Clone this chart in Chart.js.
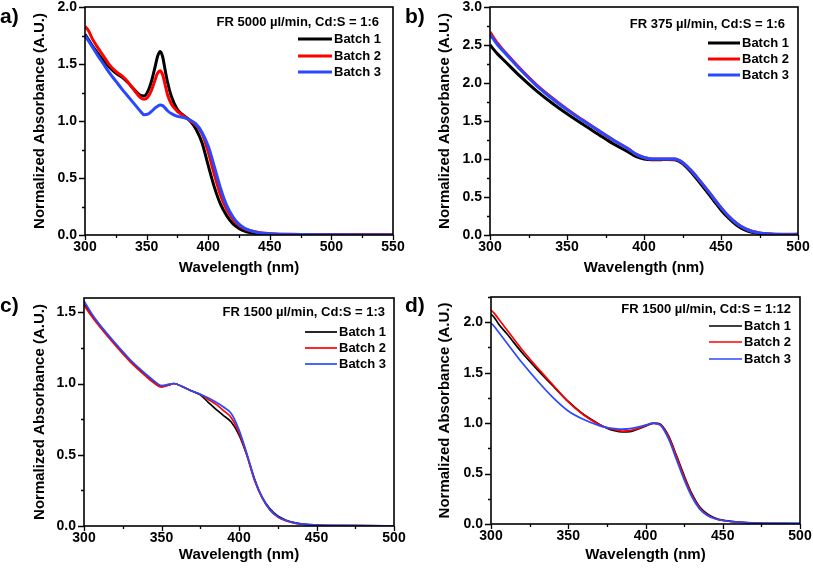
<!DOCTYPE html>
<html><head><meta charset="utf-8">
<script src="https://cdn.jsdelivr.net/npm/chart.js@4.4.0/dist/chart.umd.min.js"></script>
<style>
html,body{margin:0;padding:0;background:#fff;width:813px;height:570px;overflow:hidden;position:relative;font-family:"Liberation Sans",Arial,sans-serif;}
canvas{position:absolute;}
.lab{position:absolute;font-weight:bold;font-size:21px;line-height:1;color:#000;}
</style></head><body>
<canvas id="ca" width="406" height="285" style="left:0;top:0"></canvas>
<canvas id="cb" width="407" height="285" style="left:406px;top:0"></canvas>
<canvas id="cc" width="406" height="285" style="left:0;top:285px"></canvas>
<canvas id="cd" width="407" height="285" style="left:406px;top:285px"></canvas>
<div class="lab" style="left:0;top:5px">a)</div>
<div class="lab" style="left:405px;top:5px">b)</div>
<div class="lab" style="left:0;top:294px">c)</div>
<div class="lab" style="left:405px;top:294px">d)</div>
<script>
// ---------- DATA ----------
const seriesNames = ['Batch 1','Batch 2','Batch 3'];
const titleA = 'FR 5000 µl/min, Cd:S = 1:6';
const titleB = 'FR 375 µl/min, Cd:S = 1:6';
const titleC = 'FR 1500 µl/min, Cd:S = 1:3';
const titleD = 'FR 1500 µl/min, Cd:S = 1:12';
const xTitle = 'Wavelength (nm)';
const yTitle = 'Normalized Absorbance (A.U.)';

// Panel a
const aX  = [300,303,306,310,315,320,325,330,335,340,345,348,351,354,357,359,361,363,365,367,370,375,380,385,390,395,400,405,410,415,420,425,430,440,450,475,500,525,550];
const aB1 = [1.76,1.71,1.66,1.60,1.53,1.47,1.42,1.385,1.335,1.275,1.225,1.22,1.26,1.35,1.48,1.57,1.61,1.565,1.45,1.34,1.22,1.10,1.05,1.005,0.93,0.81,0.61,0.42,0.27,0.17,0.10,0.058,0.032,0.012,0.006,0.003,0.002,0.001,0.0];
const aB2 = [1.83,1.79,1.72,1.65,1.57,1.49,1.435,1.395,1.34,1.27,1.205,1.19,1.21,1.27,1.365,1.42,1.44,1.405,1.32,1.23,1.15,1.085,1.045,1.005,0.965,0.89,0.73,0.53,0.35,0.225,0.14,0.085,0.053,0.024,0.012,0.005,0.003,0.002,0.002];
const aB3 = [1.75,1.70,1.65,1.58,1.50,1.42,1.35,1.28,1.215,1.15,1.085,1.055,1.06,1.085,1.115,1.13,1.14,1.135,1.115,1.09,1.065,1.04,1.03,1.01,0.975,0.90,0.78,0.60,0.41,0.26,0.16,0.095,0.057,0.022,0.010,0.004,0.002,0.001,0.001];

// Panel b
const bX  = [300,305,310,320,330,340,350,360,370,380,390,395,400,405,410,415,420,425,430,435,440,445,450,455,460,465,470,475,480,490,500];
const bB1 = [2.50,2.38,2.28,2.08,1.90,1.74,1.595,1.46,1.33,1.20,1.09,1.03,1.00,0.99,0.99,0.995,0.99,0.94,0.84,0.72,0.59,0.46,0.33,0.22,0.13,0.07,0.035,0.018,0.010,0.004,0.003];
const bB2 = [2.67,2.52,2.40,2.18,1.98,1.81,1.655,1.515,1.38,1.25,1.13,1.06,1.02,1.00,1.00,1.00,1.00,0.955,0.86,0.745,0.62,0.49,0.36,0.245,0.155,0.09,0.05,0.028,0.017,0.009,0.012];
const bB3 = [2.64,2.50,2.39,2.17,1.97,1.80,1.65,1.51,1.38,1.25,1.13,1.06,1.02,1.00,1.00,1.00,1.00,0.955,0.86,0.745,0.62,0.49,0.36,0.245,0.155,0.09,0.05,0.028,0.016,0.007,0.006];

// Panel c
const cX  = [300,305,310,320,330,340,345,350,355,358,360,365,370,375,380,385,390,395,400,405,410,415,420,425,430,435,440,450,460,475,500];
const cB1 = [1.56,1.48,1.41,1.28,1.16,1.06,1.015,0.98,0.99,1.0,0.995,0.97,0.945,0.92,0.87,0.82,0.775,0.73,0.64,0.50,0.33,0.20,0.12,0.07,0.042,0.025,0.015,0.006,0.003,0.002,0.001];
const cB2 = [1.55,1.47,1.40,1.27,1.15,1.05,1.005,0.975,0.99,1.0,0.995,0.97,0.945,0.925,0.89,0.855,0.81,0.76,0.655,0.50,0.32,0.195,0.11,0.062,0.037,0.022,0.013,0.005,0.003,0.002,0.001];
const cB3 = [1.58,1.49,1.415,1.285,1.165,1.065,1.02,0.985,0.995,1.0,0.995,0.97,0.945,0.925,0.90,0.87,0.835,0.79,0.675,0.51,0.33,0.20,0.115,0.066,0.04,0.024,0.015,0.007,0.004,0.002,0.001];

// Panel d
const dX  = [300,302,305,310,320,330,340,350,360,370,375,380,385,390,395,400,405,408,410,415,420,425,430,435,440,445,450,460,470,480,490,500];
const dB1 = [2.08,2.05,1.98,1.89,1.70,1.53,1.37,1.215,1.085,0.99,0.95,0.925,0.913,0.915,0.94,0.97,0.998,0.997,0.985,0.87,0.68,0.48,0.30,0.17,0.10,0.06,0.038,0.02,0.01,0.005,0.003,0.002];
const dB2 = [2.12,2.09,2.03,1.93,1.73,1.55,1.38,1.21,1.08,0.985,0.955,0.935,0.92,0.925,0.945,0.975,1.0,0.995,0.98,0.86,0.67,0.465,0.285,0.16,0.09,0.055,0.035,0.018,0.009,0.004,0.002,0.001];
const dB3 = [1.99,1.96,1.90,1.80,1.60,1.42,1.255,1.12,1.035,0.975,0.955,0.945,0.94,0.945,0.96,0.98,1.0,0.99,0.975,0.84,0.64,0.44,0.27,0.15,0.085,0.052,0.035,0.02,0.012,0.01,0.01,0.01];

// ---------- STYLE / LAYOUT ----------
const COLORS = ['#000000','#ff0000','#2a48ff'];
const FONT = '"Liberation Sans", Arial, sans-serif';

function stepTicks(min, max, step) {
  const out = [];
  const n = Math.floor((max - min) / step + 1e-9);
  for (let i = 0; i <= n; i++) out.push({value: +(min + i * step).toFixed(6)});
  return out;
}

const framePlugin = {
  id: 'frame',
  afterDraw(chart) {
    const o = chart.options.plugins.frame;
    const {ctx, chartArea: ca, scales: {x, y}} = chart;
    ctx.save();
    ctx.strokeStyle = '#000';
    ctx.lineWidth = 1.6;
    ctx.strokeRect(ca.left, ca.top, ca.right - ca.left, ca.bottom - ca.top);
    ctx.lineWidth = 1.3;
    ctx.beginPath();
    x.ticks.forEach(t => {
      const px = Math.round(x.getPixelForValue(t.value)) + 0.5;
      const major = Math.abs(t.value / 50 - Math.round(t.value / 50)) < 1e-6;
      ctx.moveTo(px, ca.bottom);
      ctx.lineTo(px, ca.bottom + (major ? 5 : 3));
    });
    y.ticks.forEach(t => {
      const py = Math.round(y.getPixelForValue(t.value)) + 0.5;
      const major = Math.abs(t.value / 0.5 - Math.round(t.value / 0.5)) < 1e-6;
      ctx.moveTo(ca.left, py);
      ctx.lineTo(ca.left - (major ? 6 : 3), py);
    });
    ctx.stroke();
    // legend
    ctx.fillStyle = '#000';
    ctx.font = 'bold 13px ' + FONT;
    ctx.textBaseline = 'middle';
    ctx.textAlign = 'right';
    ctx.fillText(o.title, ca.right - o.tr, ca.top + o.ty);
    ctx.textAlign = 'left';
    chart.data.datasets.forEach((ds, i) => {
      const yy = ca.top + o.rows[i];
      ctx.strokeStyle = ds.borderColor;
      ctx.lineWidth = ds.borderWidth;
      ctx.beginPath();
      ctx.moveTo(ca.right - o.l1, yy);
      ctx.lineTo(ca.right - o.l2, yy);
      ctx.stroke();
      ctx.fillText(ds.label, ca.right - o.l2 + 2, yy + 0.5);
    });
    ctx.restore();
  }
};

function makeChart(id, cfg) {
  const ys = [cfg.s1, cfg.s2, cfg.s3];
  const datasets = ys.map((arr, i) => ({
    label: seriesNames[i],
    data: cfg.xs.map((xv, k) => ({x: xv, y: arr[k]})),
    borderColor: COLORS[i],
    borderWidth: cfg.lw,
    pointRadius: 0,
    fill: false,
    cubicInterpolationMode: 'monotone',
    order: 3 - i
  }));
  const H = 285;
  new Chart(document.getElementById(id), {
    type: 'line',
    data: {datasets},
    options: {
      responsive: false, animation: false, devicePixelRatio: 1,
      layout: {padding: {top: cfg.top, right: cfg.right, left: 0, bottom: 0}},
      plugins: {
        legend: {display: false}, tooltip: {enabled: false},
        frame: {title: cfg.title, tr: cfg.lg.tr, ty: cfg.lg.ty, rows: cfg.lg.rows, l1: cfg.lg.l1, l2: cfg.lg.l2}
      },
      scales: {
        x: {
          type: 'linear', min: cfg.xmin, max: cfg.xmax,
          afterBuildTicks(s) { s.ticks = stepTicks(cfg.xmin, cfg.xmax, 25); },
          ticks: {autoSkip: false, maxRotation: 0, color: '#000', padding: 4,
            font: {family: FONT, size: 14, weight: 'bold'},
            callback: v => (Math.abs(v / 50 - Math.round(v / 50)) < 1e-6 ? String(v) : '')},
          grid: {display: false, drawTicks: false},
          border: {display: false},
          title: {display: true, text: xTitle, color: '#000', font: {family: FONT, size: 15, weight: 'bold'}, padding: {top: 0, bottom: cfg.xtb}},
          afterFit(s) { s.height = H - cfg.bottom; s.paddingLeft = 0; s.paddingRight = 0; }
        },
        y: {
          type: 'linear', min: 0, max: cfg.ymax,
          afterBuildTicks(s) { s.ticks = stepTicks(0, cfg.ymax, 0.25); },
          ticks: {autoSkip: false, color: '#000', padding: 8,
            font: {family: FONT, size: 14, weight: 'bold'},
            callback: v => (Math.abs(v / 0.5 - Math.round(v / 0.5)) < 1e-6 ? v.toFixed(1) : '')},
          grid: {display: false, drawTicks: false},
          border: {display: false},
          title: {display: true, text: yTitle, color: '#000', font: {family: FONT, size: 15, weight: 'bold'}, padding: {top: cfg.ytt, bottom: 0}},
          afterFit(s) { s.width = cfg.left; s.paddingTop = 0; s.paddingBottom = 0; }
        }
      }
    },
    plugins: [framePlugin]
  });
}

makeChart('ca', {xs: aX, s1: aB1, s2: aB2, s3: aB3, lw: 3, xmin: 300, xmax: 550, ymax: 2.0,
  title: titleA, left: 85, right: 13, top: 7, bottom: 235, xtb: 8, ytt: 31,
  lg: {tr: 14, ty: 15, rows: [32, 49, 65], l1: 95, l2: 61}});
makeChart('cb', {xs: bX, s1: bB1, s2: bB2, s3: bB3, lw: 3, xmin: 300, xmax: 500, ymax: 3.0,
  title: titleB, left: 84, right: 15, top: 7, bottom: 235, xtb: 8, ytt: 30,
  lg: {tr: 13, ty: 17, rows: [36, 52, 68], l1: 90, l2: 58}});
makeChart('cc', {xs: cX, s1: cB1, s2: cB2, s3: cB3, lw: 1.7, xmin: 300, xmax: 500, ymax: 1.6,
  title: titleC, left: 84, right: 12, top: 13, bottom: 241, xtb: 6, ytt: 31,
  lg: {tr: 9, ty: 14, rows: [34, 50, 66], l1: 89, l2: 57}});
makeChart('cd', {xs: dX, s1: dB1, s2: dB2, s3: dB3, lw: 1.7, xmin: 300, xmax: 500, ymax: 2.25,
  title: titleD, left: 85, right: 13, top: 12, bottom: 239, xtb: 6, ytt: 30,
  lg: {tr: 9, ty: 12, rows: [29, 45, 62], l1: 91, l2: 58}});
</script>
</body></html>
